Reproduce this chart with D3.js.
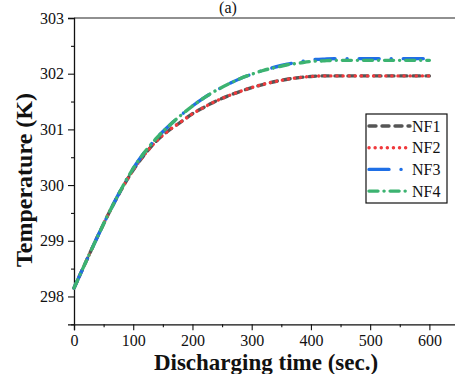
<!DOCTYPE html>
<html><head><meta charset="utf-8">
<script src="https://cdn.jsdelivr.net/npm/d3@7"></script>
<style>body{margin:0;background:#fff}svg{display:block}svg text{font-family:"Liberation Serif","Times New Roman",Times,serif !important}</style>
</head><body><svg id="c" width="455" height="374"></svg>
<script>
const times = [0,20,40,60,80,100,120,140,160,180,200,220,240,260,280,300,320,340,360,380,400,420,440,460,480,500,520,540,560,580,600];
const nf1 = [298.15,298.62,299.08,299.52,299.92,300.27,300.56,300.8,300.98,301.13,301.28,301.4,301.51,301.6,301.68,301.75,301.81,301.86,301.9,301.93,301.95,301.96,301.96,301.96,301.96,301.96,301.96,301.96,301.96,301.96,301.96];
const nf2 = [298.15,298.62,299.08,299.52,299.92,300.27,300.56,300.8,300.98,301.13,301.28,301.4,301.51,301.6,301.68,301.75,301.81,301.86,301.9,301.93,301.95,301.96,301.96,301.96,301.96,301.96,301.96,301.96,301.96,301.96,301.96];
const nf3 = [298.15,298.62,299.08,299.52,299.93,300.3,300.6,300.85,301.06,301.25,301.42,301.57,301.7,301.81,301.91,301.99,302.06,302.12,302.17,302.21,302.25,302.26,302.27,302.27,302.27,302.27,302.27,302.27,302.27,302.27,302.27];
const nf4 = [298.15,298.62,299.08,299.52,299.93,300.3,300.6,300.85,301.06,301.25,301.42,301.57,301.7,301.81,301.91,301.99,302.06,302.11,302.16,302.19,302.22,302.23,302.24,302.24,302.24,302.24,302.24,302.24,302.24,302.24,302.24];
const seriesNames = ["NF1","NF2","NF3","NF4"];
const xTicks = [0,100,200,300,400,500,600];
const yTicks = [298,299,300,301,302,303];

const svg = d3.select("#c");
const L=74, R=459, T=18, B=324.3;
const x = d3.scaleLinear().domain([0,650]).range([L,R]);
const y = d3.scaleLinear().domain([297.5,303]).range([B,T]);

const styles = [
  {c:"#555555", d:"7,6", cap:"round"},
  {c:"#f0393c", d:"0.1,6", cap:"round"},
  {c:"#1f6fe6", d:"20,12,0.1,12", cap:"round"},
  {c:"#3cb371", d:"9,6,0.1,6", cap:"round"}
];
const data = [nf1,nf2,nf3,nf4];

svg.append("line").attr("x1",L).attr("x2",R).attr("y1",T).attr("y2",T).attr("stroke","#222").attr("stroke-width",1.2);

const xa = svg.append("g").attr("transform",`translate(0,${B})`)
  .call(d3.axisBottom(x).tickValues(xTicks).tickSize(6).tickPadding(4).tickFormat(d3.format("d")));
const xm = svg.append("g").attr("transform",`translate(0,${B})`)
  .call(d3.axisBottom(x).tickValues(d3.range(50,650,100)).tickSize(3).tickFormat(""));
const ya = svg.append("g").attr("transform",`translate(${L},0)`)
  .call(d3.axisLeft(y).tickValues(yTicks).tickSize(6).tickPadding(4).tickFormat(d3.format("d")));
const ym = svg.append("g").attr("transform",`translate(${L},0)`)
  .call(d3.axisLeft(y).tickValues([297.5,298.5,299.5,300.5,301.5,302.5]).tickSize(3).tickFormat(""));
[xa,xm,ya,ym].forEach(g=>{
  g.attr("font-family",null);
  g.selectAll("path").attr("stroke","#111").attr("stroke-width",1.3);
  g.selectAll("line").attr("stroke","#111").attr("stroke-width",1.1);
  g.selectAll("text").attr("font-size",16).attr("fill","#111");
});
xm.select("path").remove(); ym.select("path").remove();

const line = d3.line().x((d,i)=>x(times[i])).y(d=>y(d)).curve(d3.curveMonotoneX);
data.forEach((s,k)=>{
  svg.append("path").datum(s).attr("d",line).attr("fill","none")
    .attr("stroke",styles[k].c).attr("stroke-width",3.4)
    .attr("stroke-dasharray",styles[k].d).attr("stroke-linecap",styles[k].cap);
});

const lg = svg.append("g");
lg.append("rect").attr("x",366).attr("y",114).attr("width",81).attr("height",89)
  .attr("fill","#fff").attr("stroke","#111").attr("stroke-width",1.2);
seriesNames.forEach((n,k)=>{
  const yy = 126+k*21.7;
  lg.append("line").attr("x1",369).attr("x2",410).attr("y1",yy).attr("y2",yy)
    .attr("stroke",styles[k].c).attr("stroke-width",3.4)
    .attr("stroke-dasharray",styles[k].d).attr("stroke-linecap",styles[k].cap);
  lg.append("text").attr("x",412).attr("y",yy+5.5).attr("font-size",16).attr("fill","#111").text(n);
});

svg.append("text").attr("x",228).attr("y",13).attr("text-anchor","middle").attr("font-size",16).attr("fill","#111").text("(a)");
svg.append("text").attr("x",266).attr("y",370).attr("text-anchor","middle").attr("font-size",23).attr("font-weight","bold").attr("fill","#111").text("Discharging time (sec.)");
svg.append("text").attr("transform","translate(32,180) rotate(-90)").attr("text-anchor","middle").attr("font-size",24).attr("font-weight","bold").attr("fill","#111").text("Temperature (K)");
</script></body></html>
